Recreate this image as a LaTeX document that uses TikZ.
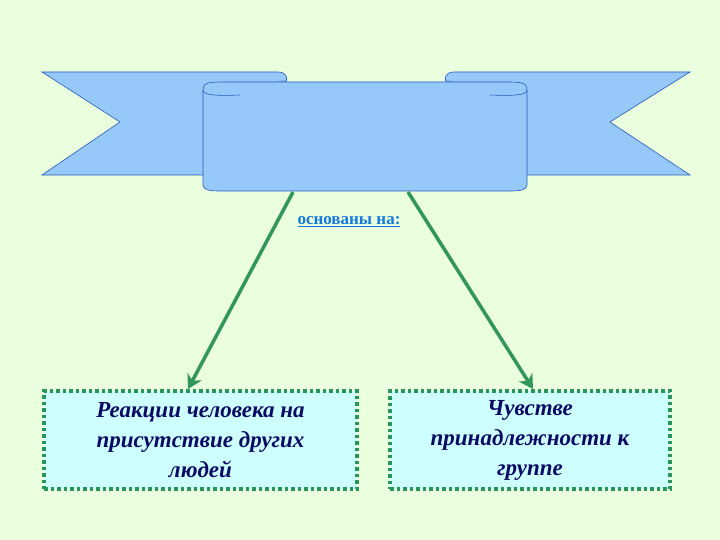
\documentclass[tikz,border=0pt]{standalone}
\usepackage{fontspec}
\setmainfont{Liberation Serif}
\usetikzlibrary{arrows.meta}
\definecolor{bg}{RGB}{234,255,222}
\definecolor{rib}{RGB}{150,200,250}
\definecolor{ribd}{RGB}{120,170,230}
\definecolor{ribline}{RGB}{40,90,190}
\definecolor{arr}{RGB}{50,150,90}
\definecolor{boxf}{RGB}{205,255,255}
\definecolor{boxd}{RGB}{40,150,90}
\definecolor{txt}{RGB}{10,10,100}
\definecolor{lbl}{RGB}{20,120,220}
\tikzset{
 ribbon/.style={fill=rib,draw=ribline,line width=0.6pt},
 conn/.style={draw=arr,line width=3.5pt,-{Stealth[length=14pt,width=16pt]}},
 answer/.style={draw=boxd,fill=boxf,dash pattern=on 3.5pt off 3pt,line width=4pt,minimum width=#1,minimum height=98pt,align=center,font=\fontsize{23}{30}\selectfont\bfseries\itshape,text=txt,inner sep=2pt},
}
\begin{document}
\begin{tikzpicture}[x=1pt,y=-1pt]
\fill[bg] (0,0) rectangle (720,540);
\useasboundingbox (0,0) rectangle (720,540);
% tails
\draw[ribbon] (42,72) -- (278,72) .. controls (288,72) and (288,80) .. (285,84) -- (285,175) -- (42,175) -- (120,122) -- cycle;
\draw[ribbon] (690,72) -- (454,72) .. controls (444,72) and (444,80) .. (447,84) -- (447,175) -- (690,175) -- (610,122) -- cycle;
\fill[ribd] (285,80) -- (285,86) -- (250,86) -- cycle;
\fill[ribd] (447,80) -- (447,86) -- (482,86) -- cycle;
% center panel
\draw[ribbon] (203,90) .. controls (203,82) and (210,82) .. (225,82) -- (505,82) .. controls (520,82) and (527,82) .. (527,90) -- (527,185) .. controls (527,190) and (520,191) .. (510,191) -- (220,191) .. controls (210,191) and (203,190) .. (203,185) -- cycle;
\draw[ribline,line width=0.6pt] (203,90) .. controls (203,95) and (215,96) .. (240,95);
\draw[ribline,line width=0.6pt] (527,90) .. controls (527,95) and (515,96) .. (490,95);
\node (banner) at (365,138) {};
\coordinate (s1) at (293,192);
\coordinate (s2) at (408,192);
% label
\node[text=lbl,font=\fontsize{17}{19}\selectfont\bfseries] (lab) at (349,222) {\underline{основаны на:}};
% boxes
\node[answer=313pt] (b1) at (200.5,440) {Реакции человека на\\присутствие других\\людей};
\node[answer=280pt] (b2) at (530,440) {Чувстве\\принадлежности к\\группе};
\draw[conn] (s1) -- (b1.north -| 188,0);
\draw[conn] (s2) -- (b2.north -| 533,0);
\end{tikzpicture}
\end{document}
